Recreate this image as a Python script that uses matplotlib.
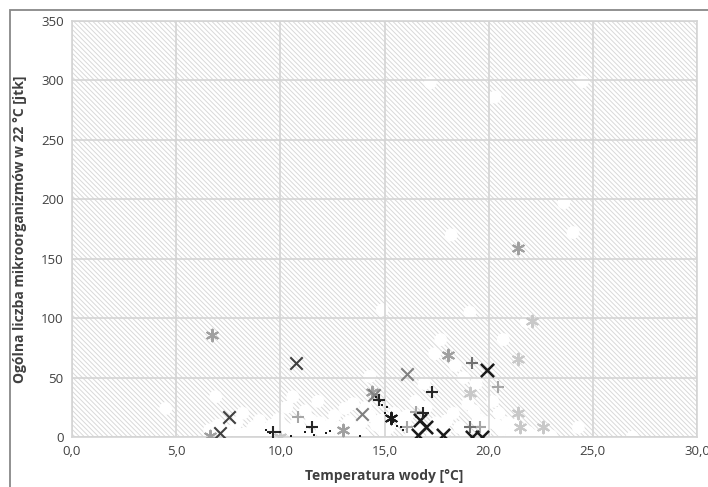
import matplotlib.pyplot as plt
from matplotlib.patches import Rectangle
from matplotlib.ticker import FuncFormatter

plt.rcParams['font.family'] = ['Open Sans', 'DejaVu Sans']
plt.rcParams['hatch.linewidth'] = 0.7

# dane: temperatura wody [°C] i liczba mikroorganizmów [jtk]
white_t = [4.5, 6.9, 10.6, 14.3, 14.9, 17.2, 17.7, 18.2, 19.1, 19.4, 20.3, 20.7,
           21.8, 23.6, 24.05, 24.5, 24.3, 26.9, 6.6, 7.0, 7.5, 7.9, 8.3, 8.7,
           9.0, 9.4, 9.9, 10.2, 11.0, 11.5, 12.0, 12.4, 12.9, 13.3, 13.7, 14.1,
           14.0, 14.6, 15.0, 15.5, 16.0, 16.5, 16.3, 17.0, 17.5, 17.9, 18.3, 18.6,
           19.0, 19.5, 19.8, 20.2, 20.5, 20.6, 20.9, 21.1, 21.9, 22.6, 23.0, 10.3,
           11.2, 12.6, 13.5, 16.9, 18.4, 8.2, 9.6, 10.8, 12.1, 13.1, 20.0,
           7.3, 8.0, 8.6, 9.2, 10.5, 11.4, 11.9, 12.8, 13.4, 14.3, 15.2, 15.8,
           16.6, 17.3, 18.0, 18.9, 19.3, 20.4, 21.3, 22.2, 17.4, 18.8, 11.8, 13.9,
           8.9, 9.7, 10.9, 12.3, 14.8, 16.1, 17.7, 19.9, 21.6]
white_n = [24, 34, 34, 51, 107, 298, 82, 170, 105, 45, 286, 82,
           97, 197, 172, 299, 8, 0, 6, 10, 5, 12, 3, 8,
           14, 2, 15, 8, 3, 14, 5, 10, 2, 13, 6, 25,
           2, 10, 4, 20, 12, 30, 3, 25, 12, 5, 20, 8,
           28, 15, 3, 30, 20, 6, 12, 3, 4, 2, 1, 25,
           22, 18, 28, 45, 60, 20, 10, 12, 8, 24, 12,
           1, 2, 1, 7, 6, 1, 12, 8, 3, 18, 8, 16,
           6, 2, 14, 2, 22, 10, 10, 1, 70, 50, 30, 12,
           4, 7, 9, 1, 14, 18, 1, 12, 6]

ast_gray_t = [6.7, 21.4, 18.05, 14.4, 13.0, 6.6]
ast_gray_n = [86, 159, 69, 38, 6, 1]

ast_light_t = [22.1, 21.4, 21.4, 21.5, 22.6, 19.1, 10.0]
ast_light_n = [98, 66, 20, 8, 8, 37, 0]

plus_gray_t = [10.85, 20.45, 16.1, 16.5, 19.6]
plus_gray_n = [17, 42, 8, 21, 8]

plus_dgray_t = [19.2, 19.1]
plus_dgray_n = [62, 8]

x_mid_t = [16.1, 13.9, 14.5]
x_mid_n = [53, 19, 35]

x_dark_t = [10.75, 7.55, 7.1]
x_dark_n = [62, 17, 3]

x_black_t = [19.9, 19.2, 19.7, 16.7, 17.0, 16.6, 17.8]
x_black_n = [56, 0, 0, 14, 8, 2, 2]

plus_black_t = [17.3, 16.85, 11.5, 9.65, 14.75]
plus_black_n = [38, 20, 8, 4, 31]

ast_black_t = [15.3]
ast_black_n = [16]

dot_t = [14.6, 14.8, 14.9, 15.1, 15.4, 15.6, 15.9, 9.3, 9.5, 10.0, 10.5,
         11.2, 11.6, 12.2, 12.4, 13.8, 15.0, 15.8]
dot_n = [34, 30, 27, 25, 13, 9, 6, 6, 3, 4, 1, 4, 2, 3, 5, 1, 20, 8]

fig = plt.figure(figsize=(7.08, 4.87), dpi=100)
ax = fig.add_axes([72 / 708, 1 - 437 / 487, 625 / 708, 416 / 487])

# tło z ukośnym kreskowaniem
ax.add_patch(Rectangle((0, 0), 1, 1, transform=ax.transAxes, facecolor='white',
                       edgecolor='#d9d9d9', linewidth=0, hatch='\\' * 7, zorder=0))

ax.set_xlim(0, 30)
ax.set_ylim(0, 350)
ax.set_xticks(range(0, 31, 5))
ax.set_yticks(range(0, 351, 50))
ax.xaxis.set_major_formatter(FuncFormatter(lambda v, p: f'{v:.1f}'.replace('.', ',')))
ax.grid(True, color='#d4d4d4', linewidth=1.2, zorder=1)
ax.set_axisbelow(False)
for s in ax.spines.values():
    s.set_color('#d4d4d4')
    s.set_linewidth(1.2)
ax.tick_params(length=0, labelsize=9.5, colors='#404040', pad=6)

ax.scatter(white_t, white_n, s=85, marker='o', color='white', edgecolors='none', zorder=2)
ax.scatter(ast_light_t, ast_light_n, s=70, marker=(6, 2, 0), color='#c8c8c8', linewidths=1.5, zorder=3)
ax.scatter(ast_gray_t, ast_gray_n, s=70, marker=(6, 2, 0), color='#a0a0a0', linewidths=1.5, zorder=3)
ax.scatter(plus_gray_t, plus_gray_n, s=80, marker='+', color='#a6a6a6', linewidths=1.5, zorder=3)
ax.scatter(plus_dgray_t, plus_dgray_n, s=80, marker='+', color='#707070', linewidths=1.5, zorder=3)
ax.scatter(x_mid_t, x_mid_n, s=80, marker='x', color='#808080', linewidths=1.5, zorder=3)
ax.scatter(x_dark_t, x_dark_n, s=80, marker='x', color='#404040', linewidths=1.5, zorder=3)
ax.scatter(x_black_t, x_black_n, s=90, marker='x', color='#1a1a1a', linewidths=1.8, zorder=3)
ax.scatter(plus_black_t, plus_black_n, s=80, marker='+', color='#262626', linewidths=1.5, zorder=3)
ax.scatter(ast_black_t, ast_black_n, s=70, marker=(6, 2, 0), color='#1a1a1a', linewidths=1.5, zorder=3)
ax.scatter(dot_t, dot_n, s=3, marker='s', color='#1a1a1a', linewidths=0, zorder=3)

ax.set_xlabel('Temperatura wody [°C]', fontsize=10, fontweight='bold', color='#404040', labelpad=8)
ax.set_ylabel('Ogólna liczba mikroorganizmów w 22 °C [jtk]', fontsize=10,
              fontweight='bold', color='#404040', labelpad=10)

# ramka wykresu
fig.patches.append(Rectangle((9.5 / 708, -0.1), 1.2, 1.1 - 10 / 487, transform=fig.transFigure,
                             fill=False, edgecolor='#888888', linewidth=1.3))

fig.savefig('out.png', dpi=100)
